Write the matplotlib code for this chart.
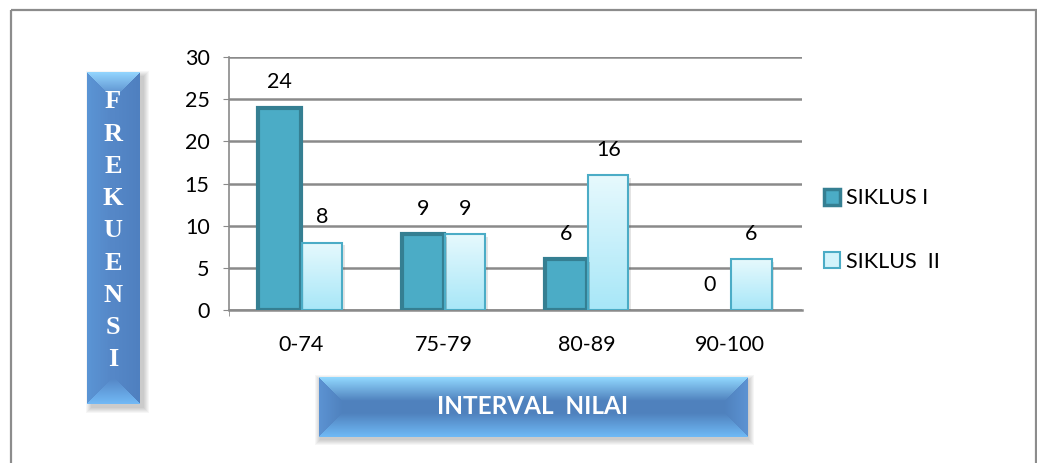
import matplotlib
matplotlib.use("Agg")
import matplotlib.pyplot as plt
import matplotlib.colors as mcolors
import matplotlib.patheffects as pe
from matplotlib.patches import Patch, Rectangle
import numpy as np

plt.rcParams['font.family'] = ['Lato', 'DejaVu Sans']

categories = ['0-74', '75-79', '80-89', '90-100']
siklus1 = [24, 9, 6, 0]
siklus2 = [8, 9, 16, 6]
series_names = ['SIKLUS I', 'SIKLUS  II']
yticks = [0, 5, 10, 15, 20, 25, 30]
ylabel_letters = list('FREKUENSI')
xlabel_text = 'INTERVAL  NILAI'

W, H = 1037, 463
fig = plt.figure(figsize=(W / 100, H / 100), dpi=100)

# overlay in pixel coords for the frame and the bevelled title boxes
bg = fig.add_axes([0, 0, 1, 1], zorder=0)
bg.set_xlim(0, W)
bg.set_ylim(H, 0)
bg.axis('off')
bg.add_patch(Rectangle((11, 10), 1025, 480, fill=False, edgecolor='#8c8c8c', lw=1.6))


def bevel(w, h, inset, top, bottom, left, right, mid):
    yy, xx = np.mgrid[0:h, 0:w] + 0.5
    d = np.stack([yy, h - yy, xx, w - xx])
    k = d.argmin(axis=0)
    t = np.clip(d.min(axis=0) / inset, 0, 1)[..., None]
    edge = np.array([mcolors.to_rgb(c) for c in (top, bottom, left, right)])[k]
    return edge * (1 - t) + np.array(mcolors.to_rgb(mid)) * t


def shadow(x0, y0, x1, y1, dx, dy):
    for k in range(6):
        bg.add_patch(Rectangle((x0 + dx - k, y0 + dy - k), x1 - x0 + 2 * k, y1 - y0 + 2 * k,
                               facecolor='black', edgecolor='none', alpha=0.035, zorder=1))


# vertical box
vx0, vy0, vx1, vy1 = 87, 72, 140, 404
shadow(vx0, vy0, vx1, vy1, 4, 4)
img = bevel(vx1 - vx0, vy1 - vy0, 25, '#94d6ff', '#72baf6', '#5b95d5', '#4f80c0', '#5587c7')
bg.imshow(img, extent=[vx0, vx1, vy1, vy0], aspect='auto', interpolation='bilinear', zorder=2)
for i, ch in enumerate(ylabel_letters):
    bg.text(113, 102 + 32.2 * i, ch, color='white', fontsize=19, fontweight='bold',
            family='Liberation Serif', ha='center', va='center', zorder=3)

# horizontal box
hx0, hy0, hx1, hy1 = 319, 377, 748, 437
shadow(hx0, hy0, hx1, hy1, 1, 3)
img = bevel(hx1 - hx0, hy1 - hy0, 24, '#92d9ff', '#70baf6', '#5c93d3', '#5c93d3', '#4f81bd')
bg.imshow(img, extent=[hx0, hx1, hy1, hy0], aspect='auto', interpolation='bilinear', zorder=2)
bg.text(533, 406, xlabel_text, color='white', fontsize=17.5, fontweight='bold',
        ha='center', va='center', zorder=3)

# chart
ax = fig.add_axes([229 / W, 1 - 310 / H, 573 / W, 253 / H], zorder=1)
ax.patch.set_alpha(0)
x = np.arange(len(categories))
bw = 0.295

shade = [pe.SimplePatchShadow(offset=(2, -2), alpha=0.2), pe.Normal()]
b1 = ax.bar(x - bw / 2, siklus1, bw, color='#4bacc6', edgecolor='#357f92', lw=3,
            path_effects=shade, zorder=3)
for bar, v in zip(b1, siklus1):
    if v == 0:
        bar.set_linewidth(0)
        bar.set_path_effects([])

# light bars: vertical gradient clipped to each bar
b2 = ax.bar(x + bw / 2, siklus2, bw * 0.95, color='none', edgecolor='#4bacc6', lw=1.5, zorder=3)
grad = np.linspace(1, 0, 64)[:, None]
cmap = mcolors.LinearSegmentedColormap.from_list('g', ['#a8e7f8', '#e6f9fd'])
for bar in b2:
    bx, bwid, bh = bar.get_x(), bar.get_width(), bar.get_height()
    ax.add_patch(Rectangle((bx, 0), bwid, bh, facecolor='black', edgecolor='none',
                           path_effects=[pe.SimplePatchShadow(offset=(2, -2), alpha=0.15)],
                           alpha=0, zorder=2.8))
    im = ax.imshow(grad, extent=[bx, bx + bwid, 0, bh], cmap=cmap, aspect='auto',
                   vmin=0, vmax=1, zorder=2.9)
    im.set_clip_path(bar)

for bars, vals in ((b1, siklus1), (b2, siklus2)):
    for bar, v in zip(bars, vals):
        ax.annotate(str(v), (bar.get_x() + bar.get_width() / 2, v), xytext=(0, 11),
                    textcoords='offset points', ha='center', va='bottom', fontsize=15.5)

ax.set_xlim(-0.5, 3.5)
ax.set_ylim(0, 30)
ax.set_yticks(yticks)
ax.set_xticks(x)
ax.set_xticklabels(categories)
ax.set_xticks([-0.5], minor=True)
ax.yaxis.grid(True, color='#8a8a8a', lw=1.8)
ax.set_axisbelow(True)
for s in ('top', 'right'):
    ax.spines[s].set_visible(False)
ax.spines['left'].set_color('#8a8a8a')
ax.spines['bottom'].set_color('#8a8a8a')
ax.spines['left'].set_linewidth(1.2)
ax.spines['bottom'].set_linewidth(1.8)
ax.tick_params(axis='y', length=4, color='#8a8a8a', pad=10, labelsize=15.5)
ax.tick_params(axis='x', which='major', length=0, pad=18, labelsize=15.5)
ax.tick_params(axis='x', which='minor', length=4, color='#8a8a8a')

handles = [Patch(facecolor='#4bacc6', edgecolor='#357f92', lw=2.5),
           Patch(facecolor='#d2f3fb', edgecolor='#4bacc6', lw=1.5)]
fig.legend(handles, series_names, loc='center left', bbox_to_anchor=(813 / W, 1 - 230 / H),
           frameon=False, fontsize=15.5, handlelength=0.75, handleheight=0.75,
           handletextpad=0.3, labelspacing=2.0, borderpad=0)

fig.savefig('out.png', dpi=100)
